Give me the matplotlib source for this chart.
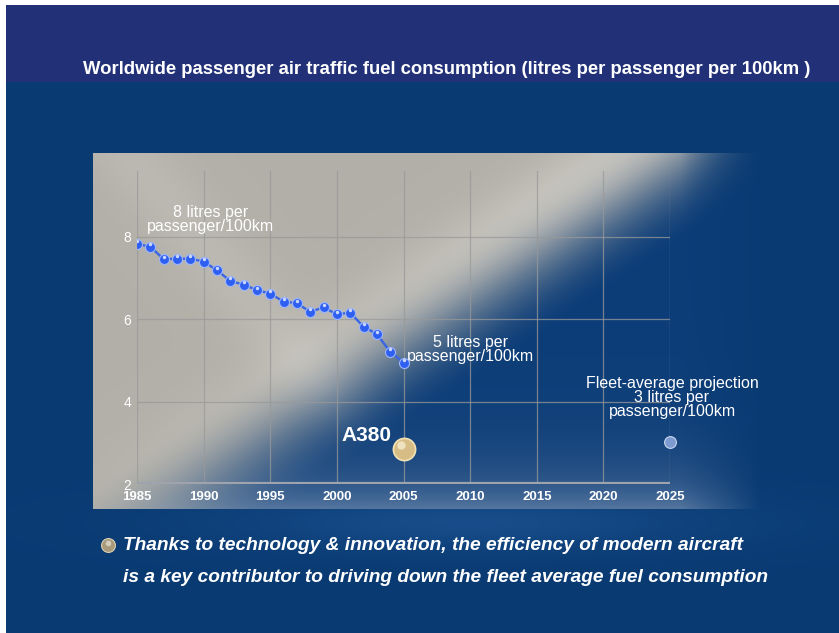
"""
Recreate the slide: worldwide passenger air traffic fuel consumption.
"""
import numpy as np
import matplotlib
matplotlib.use('Agg')
import matplotlib.pyplot as plt
from matplotlib.transforms import offset_copy

# --- data ---
years = [1985, 1986, 1987, 1988, 1989, 1990, 1991, 1992, 1993, 1994, 1995,
         1996, 1997, 1998, 1999, 2000, 2001, 2002, 2003, 2004, 2005]
litres = [7.83, 7.76, 7.46, 7.47, 7.47, 7.40, 7.19, 6.93, 6.84, 6.71, 6.62,
          6.43, 6.39, 6.18, 6.29, 6.12, 6.16, 5.82, 5.64, 5.21, 4.95]
a380_year, a380_value = [2005], [2.85]
proj_year, proj_value = [2025], [3.02]
x_ticks = [1985, 1990, 1995, 2000, 2005, 2010, 2015, 2020, 2025]
y_ticks = [2, 4, 6, 8]

TITLE = 'Worldwide passenger air traffic fuel consumption (litres per passenger per 100km )'
BULLET_1 = 'Thanks to technology & innovation, the efficiency of modern aircraft'
BULLET_2 = 'is a key contributor to driving down the fleet average fuel consumption'

SANS = ['Liberation Sans', 'DejaVu Sans']

W, H = 839, 633


def background():
    """Slide background: navy band, blue body and the grey chart panel."""
    yy, xx = np.mgrid[0:H, 0:W].astype(float)
    img = np.zeros((H, W, 3))
    body = np.array([0.04, 0.23, 0.45])
    img[:] = body
    # slight lighter wave under the chart
    wave = np.exp(-((yy - 522) / 28.0) ** 2) * np.exp(-((xx - 470) / 240.0) ** 2)
    img += wave[..., None] * np.array([0.05, 0.07, 0.09])
    img[yy < 82] = [0.13, 0.19, 0.47]

    # grey panel
    x0, x1, y0, y1 = 93, 760, 153, 508
    inside = (xx >= x0) & (xx <= x1) & (yy >= y0) & (yy <= y1)
    u = (xx - x0) / (x1 - x0)
    v = (yy - y0) / (y1 - y0)
    d = (0.93 - 0.80 * v) - u
    w = np.clip(0.45 + d / 0.34, 0, 1)
    w = w * w * (3 - 2 * w)
    grey = np.array([0.70, 0.69, 0.66])
    blue = np.array([0.05, 0.24, 0.47])
    steel = np.array([0.33, 0.46, 0.62])
    low = np.exp(-(1 - v) / 0.10)[..., None]
    blue_px = blue + low * (steel - blue)
    panel = w[..., None] * grey + (1 - w[..., None]) * blue_px
    streak = np.exp(-((d - 0.14) / 0.10) ** 2) * np.clip(1.1 - v, 0, 1) * 0.45
    streak2 = np.exp(-(((u - 0.05) - 0.45 * v) / 0.07) ** 2) * 0.2 * w
    panel += (streak + streak2)[..., None] * (np.array([0.87, 0.86, 0.84]) - panel)
    # fade the panel into the body towards its right edge
    fade = np.clip((1 - u) / 0.12, 0, 1)[..., None]
    panel = fade * panel + (1 - fade) * img
    img[inside] = panel[inside]

    img = np.clip(img, 0, 1)
    img[:5, :] = 1.0
    img[:, :6] = 1.0
    return img


fig = plt.figure(figsize=(W / 100, H / 100), dpi=100)
bg = fig.add_axes([0, 0, 1, 1])
bg.imshow(background(), extent=(0, W, H, 0), aspect='auto', interpolation='bilinear')
bg.set_xlim(0, W)
bg.set_ylim(H, 0)
bg.axis('off')

# chart axes placed over the panel
ax = fig.add_axes([137 / W, (H - 484) / H, 533 / W, (484 - 171) / H])
ax.set_facecolor('none')
ax.set_xlim(1985, 2025)
ax.set_ylim(2, 9.6)
for s in ax.spines.values():
    s.set_visible(False)
ax.set_xticks(x_ticks)
ax.set_yticks(y_ticks)
ax.grid(True, color=(0.60, 0.60, 0.60), lw=0.9, alpha=0.75)
ax.tick_params(axis='x', length=0, colors='white', pad=5)
ax.tick_params(axis='y', length=0, colors='white', pad=4)
for lab in ax.get_xticklabels():
    lab.set_family(SANS); lab.set_fontweight('bold'); lab.set_fontsize(9.5)
for lab in ax.get_yticklabels():
    lab.set_family(SANS); lab.set_fontsize(10)
ax.axhline(2, color=(0.62, 0.64, 0.68), lw=3, zorder=3)

# main series
ax.plot(years, litres, '-o', color='#3a66e6', lw=1.7, ms=7.2,
        mfc='#2f5ff0', mec='#9cb6ff', mew=0.8, zorder=5)
shine = offset_copy(ax.transData, fig=fig, x=0, y=1.8, units='points')
ax.plot(years, litres, 'o', ms=2.5, color='white', alpha=0.75,
        mec='none', transform=shine, zorder=6)

# A380 and projection
ax.plot(a380_year, a380_value, 'o', ms=16, mfc='#d6bd85', mec='#f3e2b5',
        mew=1.2, zorder=5)
ax.plot(a380_year, a380_value, 'o', ms=6, color='#fbf3dc', mec='none', alpha=0.7,
        transform=offset_copy(ax.transData, fig=fig, x=-1.5, y=3, units='points'),
        zorder=6)
ax.plot(proj_year, proj_value, 'o', ms=8.5, mfc='#7d9bd0', mec='#c8d6f0',
        mew=0.8, zorder=5, clip_on=False)

# annotations
note = dict(color='white', fontsize=11.5, family=SANS, ha='center', va='center',
            linespacing=0.92)
ax.text(1990.5, 8.42, '8 litres per\npassenger/100km', **note)
ax.text(2010.0, 5.26, '5 litres per\npassenger/100km', **note)
ax.text(2025.15, 4.09, 'Fleet-average projection\n3 litres per\npassenger/100km',
        clip_on=False, **note)
ax.text(2002.2, 3.17, 'A380', color='white', fontsize=15, fontweight='bold',
        family=SANS, ha='center', va='center')

# slide texts
fig.text(83 / W, 1 - 70 / H, TITLE, color='white', fontsize=13.3, fontweight='bold',
         family=SANS, ha='left', va='center')
bg.plot([108], [545], 'o', ms=10, mfc='#a89a7a', mec='#d8cdb0', mew=0.8)
bg.plot([108], [542.5], 'o', ms=4, color='#e8e4da', mec='none', alpha=0.7)
fig.text(123 / W, 1 - 545 / H, BULLET_1, color='white', fontsize=13.8,
         fontweight='bold', style='italic', family=SANS, ha='left', va='center')
fig.text(123 / W, 1 - 578 / H, BULLET_2, color='white', fontsize=13.8,
         fontweight='bold', style='italic', family=SANS, ha='left', va='center')

fig.savefig('out.png', dpi=100)
